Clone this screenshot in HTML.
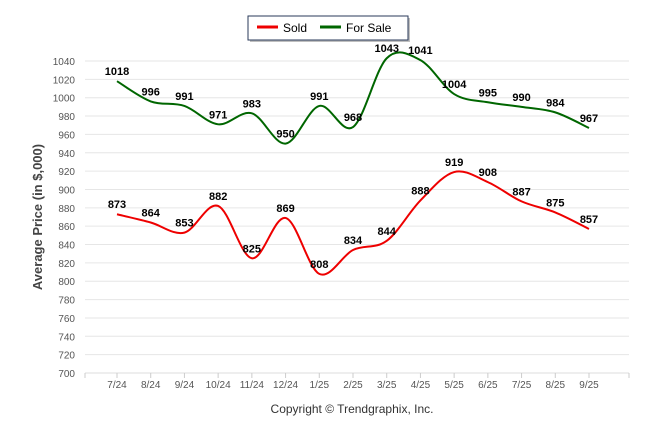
<!DOCTYPE html>
<html><head><meta charset="utf-8"><style>
body{margin:0;background:#fff;font-family:"Liberation Sans",sans-serif}
svg text{font-family:"Liberation Sans",sans-serif}
</style></head><body>
<svg id="chart" width="646" height="434" xmlns="http://www.w3.org/2000/svg">
<g>
<rect x="248" y="16" width="160" height="24" fill="#000" opacity="0.25" transform="translate(2,2)"/>
<rect x="248" y="16" width="160" height="24" fill="#fff" stroke="#2a3a5a" stroke-width="1"/>
<g><line x1="257" y1="27" x2="278" y2="27" stroke="#e00" stroke-width="3"/><text x="283" y="32" font-size="12">Sold</text></g>
<g><line x1="320" y1="27" x2="341" y2="27" stroke="#060" stroke-width="3"/><text x="346" y="32" font-size="12">For Sale</text></g>
</g>
<text transform="translate(42,217) rotate(-90)" text-anchor="middle" font-size="13" font-weight="bold" fill="#444">Average Price (in $,000)</text>
<text x="352" y="413" text-anchor="middle" font-size="12" fill="#333">Copyright © Trendgraphix, Inc.</text>
<g id="grid"></g><g id="series"></g><g id="labels"></g>
</svg>
<script>
const categories=["7/24","8/24","9/24","10/24","11/24","12/24","1/25","2/25","3/25","4/25","5/25","6/25","7/25","8/25","9/25"];
const soldValues=[873,864,853,882,825,869,808,834,844,888,919,908,887,875,857];
const forSaleValues=[1018,996,991,971,983,950,991,968,1043,1041,1004,995,990,984,967];
const yTicks=[700,720,740,760,780,800,820,840,860,880,900,920,940,960,980,1000,1020,1040];
const NS="http://www.w3.org/2000/svg";
const L=85,R=629,T=61,B=373,yMin=700,yMax=1040;
function x(i){return 117+i*(589-117)/(categories.length-1);}
function y(v){return B-(v-yMin)/(yMax-yMin)*(B-T);}
function mk(tag,attrs,parent){const e=document.createElementNS(NS,tag);for(const k in attrs)e.setAttribute(k,attrs[k]);parent.appendChild(e);return e;}
const grid=document.getElementById('grid');
yTicks.forEach(v=>{
 const l=mk('line',{x1:L,x2:R,y1:y(v),y2:y(v),stroke:'#e6e6e6','stroke-width':1},grid);
 
 
 const t=mk('text',{x:75,y:y(v)+4,'text-anchor':'end','font-size':10,fill:'#555'},grid);
 t.textContent=v;
 
 
});
mk('line',{x1:L,x2:R,y1:B,y2:B,stroke:'#ddd'},grid);
mk('line',{x1:L,x2:L,y1:B,y2:B+5,stroke:'#ccc'},grid);
mk('line',{x1:R,x2:R,y1:B,y2:B+5,stroke:'#ccc'},grid);
categories.forEach((c,i)=>{
 mk('line',{x1:x(i),x2:x(i),y1:B,y2:B+5,stroke:'#ccc'},grid);
 const t=mk('text',{x:x(i),y:B+15,'text-anchor':'middle','font-size':10,fill:'#555'},grid);
 t.textContent=c;
 
 
});
function path(vals){
 const p=vals.map((v,i)=>[x(i),y(v)]);let d='M'+p[0][0]+','+p[0][1];
 for(let i=0;i<p.length-1;i++){
  const p0=p[i-1]||p[i],p1=p[i],p2=p[i+1],p3=p[i+2]||p2;
  const s=1/6;
  d+=' C'+(p1[0]+(p2[0]-p0[0])*s)+','+(p1[1]+(p2[1]-p0[1])*s)+' '+(p2[0]-(p3[0]-p1[0])*s)+','+(p2[1]-(p3[1]-p1[1])*s)+' '+p2[0]+','+p2[1];
 }return d;}
const S=document.getElementById('series'),Lb=document.getElementById('labels');
[[soldValues,'#e00','sold'],[forSaleValues,'#060','for-sale']].forEach(([vals,col,n])=>{
 const pth=mk('path',{d:path(vals),fill:'none',stroke:col,'stroke-width':2},S);
 
 
 vals.forEach((v,i)=>{
  const t=mk('text',{x:x(i),y:y(v)-6,'text-anchor':'middle','font-size':11,'font-weight':'bold',fill:'#000'},Lb);
  t.textContent=v;
  
  
 });
});
</script>
</body></html>
